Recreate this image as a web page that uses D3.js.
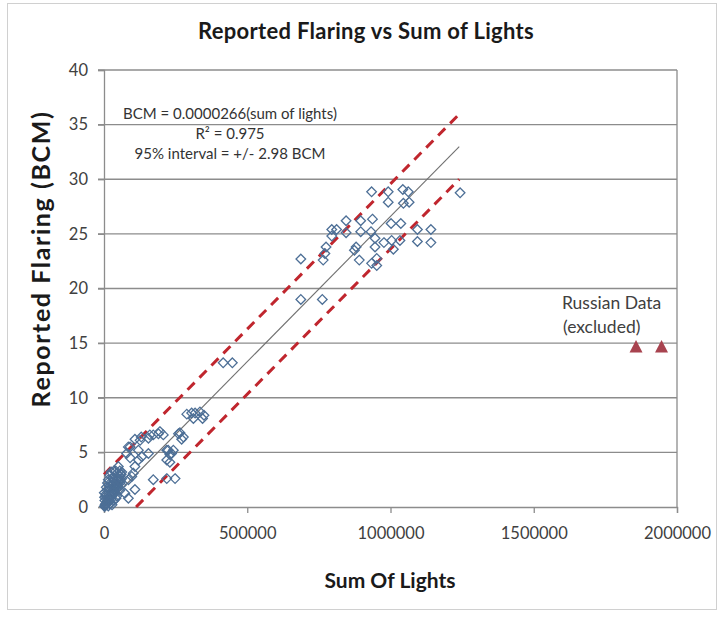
<!DOCTYPE html>
<html><head><meta charset="utf-8">
<script src="https://cdn.jsdelivr.net/npm/d3@7"></script>
<style>body{margin:0;background:#fff}</style>
</head><body><svg id="c" width="722" height="617"></svg>
<script>
// ---- data ----
const lightsSum = [
 934000,992000,1043000,1062000,992000,1045000,1065000,1243000,845000,896000,937000,1002000,1036000,
 795000,812000,845000,896000,932000,795000,1094000,1141000,1094000,1141000,946000,977000,1004000,1033000,
 1010000,946000,775000,880000,874000,771000,765000,687000,891000,934000,952000,952000,687000,762000,
 416000,448000,289000,306000,335000,349000,312000,344000,318000,265000,277000,271000,260000,207000,172000,
 155000,195000,190000,160000,130000,108000,126000,219000,230000,242000,224000,120000,91000,85000,79000,
 155000,132000,236000,219000,230000,120000,91000,50000,108000,102000,172000,219000,248000,97000,85000,
 108000,85000,73000,
 2000,3000,4000,5000,6000,8000,10000,12000,14000,15000,17000,18000,20000,22000,24000,25000,27000,28000,
 30000,32000,34000,35000,36000,38000,40000,42000,44000,45000,48000,50000,52000,55000,58000,60000,
 3000,7000,12000,20000,26000,33000,41000,1000,2000,9000,16000,46000,62000,56000,
 15000,20000,25000,35000,45000,55000,60000,55000,45000,35000,28000,20000,10000,8000,12000,30000,
 40000,50000,25000,38000,18000,47000,53000,33000,22000,42000,15000,6000,62000,58000
];
const flaringBCM = [
 28.85,28.85,29.06,28.85,27.9,27.8,27.9,28.76,26.2,26.2,26.35,25.95,25.95,
 25.4,25.4,25.1,25.2,25.2,24.8,25.4,25.4,24.3,24.2,24.6,24.2,24.4,24.4,
 23.6,23.8,23.8,23.8,23.5,23.2,22.6,22.7,22.6,22.3,22.75,22.1,19.0,19.0,
 13.2,13.2,8.5,8.6,8.7,8.4,8.1,8.1,8.6,6.8,6.4,6.2,6.7,6.6,6.6,
 6.3,6.9,6.7,6.6,6.4,6.2,6.1,5.2,4.8,5.2,5.2,5.2,5.5,5.5,4.9,
 4.9,4.6,4.9,4.3,4.1,4.3,4.5,3.7,3.7,3.1,2.5,2.6,2.6,2.8,2.5,
 1.6,0.8,1.25,
 0.05,0.1,0.2,0.15,0.3,0.25,0.4,0.5,0.6,0.45,0.7,0.9,0.8,1.0,1.1,0.7,1.3,1.0,
 1.4,1.2,1.6,1.8,1.5,2.0,1.9,1.7,2.2,2.4,2.1,2.6,2.3,2.8,2.5,3.0,
 0.6,1.2,1.5,1.9,2.3,2.7,3.3,1.3,0.9,0.3,0.5,2.0,3.2,2.2,
 2.5,2.9,3.2,3.3,3.1,3.3,2.0,1.5,1.0,0.6,0.2,0.3,0.9,1.8,2.2,2.7,
 2.0,1.8,1.0,1.3,1.6,2.6,2.4,2.1,2.0,0.8,0.1,1.0,2.6,3.0
];
const russianLights = [1857000, 1946000];
const russianBCM = [14.7, 14.7];
const xTicks = [0, 500000, 1000000, 1500000, 2000000];
const yTicks = [0, 5, 10, 15, 20, 25, 30, 35, 40];
const fitSlope = 0.0000266;
const fitInterval = 2.98;
const fitMaxLights = 1240000;
const annotationLines = ["BCM = 0.0000266(sum of lights)", "R² = 0.975", "95% interval = +/- 2.98 BCM"];

// ---- layout ----
const svg = d3.select("#c");
const L = 104, R = 677, T = 70, B = 507;
const x = d3.scaleLinear().domain([0, 2000000]).range([L, R]);
const y = d3.scaleLinear().domain([0, 40]).range([B, T]);
const font = "Lato, 'Open Sans', sans-serif";

// outer border
svg.append("rect").attr("x", 7.5).attr("y", 3.5).attr("width", 709).attr("height", 606)
  .attr("fill", "none").attr("stroke", "#d0d0d0").attr("stroke-width", 1);

// title
svg.append("text").attr("x", 366).attr("y", 39).attr("text-anchor", "middle")
  .attr("font-family", font).attr("font-weight", "bold").attr("font-size", 22)
  .attr("letter-spacing", 0.3).attr("fill", "#1a1a1a").text("Reported Flaring vs Sum of Lights");

// gridlines
svg.append("g").selectAll("line").data(yTicks.filter(d => d > 0)).join("line")
  .attr("x1", L - 6).attr("x2", R).attr("y1", d => y(d)).attr("y2", d => y(d))
  .attr("stroke", "#8c8c8c").attr("stroke-width", 1.3);

// right border of plot
svg.append("line").attr("x1", R).attr("x2", R).attr("y1", T).attr("y2", B)
  .attr("stroke", "#8c8c8c").attr("stroke-width", 1.3);

// axes
const xAxis = svg.append("g").attr("transform", `translate(0,${B})`)
  .call(d3.axisBottom(x).tickValues(xTicks).tickFormat(d3.format("d")).tickSize(6).tickPadding(14));
const yAxis = svg.append("g").attr("transform", `translate(${L},0)`)
  .call(d3.axisLeft(y).tickValues(yTicks).tickFormat(d3.format("d")).tickSize(6).tickPadding(10));
[xAxis, yAxis].forEach(a => {
  a.select(".domain").attr("stroke", "#8c8c8c").attr("stroke-width", 1.3);
  a.selectAll(".tick line").attr("stroke", "#8c8c8c").attr("stroke-width", 1.3);
  a.selectAll(".tick text").attr("font-family", font).attr("font-size", 16.5).attr("fill", "#404040");
});

// axis titles
svg.append("text").attr("x", 390).attr("y", 588).attr("text-anchor", "middle")
  .attr("font-family", font).attr("font-weight", "bold").attr("font-size", 21)
  .attr("fill", "#1a1a1a").text("Sum Of Lights");
svg.append("text").attr("transform", "translate(50,259) rotate(-90)").attr("text-anchor", "middle")
  .attr("font-family", font).attr("font-weight", "bold").attr("font-size", 25)
  .attr("letter-spacing", 1.6).attr("fill", "#1a1a1a").text("Reported Flaring (BCM)");

// fit line & interval
const fitPts = [0, fitMaxLights];
const lineGen = d3.line().x(d => x(d[0])).y(d => y(d[1]));
svg.append("path").datum(fitPts.map(v => [v, fitSlope * v]))
  .attr("d", lineGen).attr("stroke", "#707070").attr("stroke-width", 1.1).attr("fill", "none");
svg.append("path").datum(fitPts.map(v => [v, fitSlope * v + fitInterval]))
  .attr("d", lineGen).attr("stroke", "#c0262e").attr("stroke-width", 3)
  .attr("stroke-dasharray", "10,7").attr("fill", "none");
svg.append("path").datum([fitInterval / fitSlope, fitMaxLights].map(v => [v, fitSlope * v - fitInterval]))
  .attr("d", lineGen).attr("stroke", "#c0262e").attr("stroke-width", 3)
  .attr("stroke-dasharray", "10,7").attr("fill", "none");

// diamonds
const r = 4.8;
const diamond = `M0,${-r}L${r},0L0,${r}L${-r},0Z`;
svg.append("g").selectAll("path").data(lightsSum.map((v, i) => [v, flaringBCM[i]])).join("path")
  .attr("d", diamond).attr("transform", d => `translate(${x(d[0])},${y(d[1])})`)
  .attr("fill", "none").attr("stroke", "#4d6f96").attr("stroke-width", 1.3);

// Russian triangles
const tri = "M0,-6.5L6.5,6L-6.5,6Z";
svg.append("g").selectAll("path").data(russianLights.map((v, i) => [v, russianBCM[i]])).join("path")
  .attr("d", tri).attr("transform", d => `translate(${x(d[0])},${y(d[1])})`)
  .attr("fill", "#a8434f");

// annotations
const ann = svg.append("text").attr("font-family", font).attr("font-size", 15).attr("fill", "#333")
  .attr("text-anchor", "middle");
annotationLines.forEach((t, i) => {
  ann.append("tspan").attr("x", 230).attr("y", 119 + i * 20).text(t);
});
const rus = svg.append("text").attr("font-family", font).attr("font-size", 17.5).attr("fill", "#404040");
rus.append("tspan").attr("x", 562).attr("y", 309).text("Russian Data");
rus.append("tspan").attr("x", 563).attr("y", 333).text("(excluded)");
</script>
</body></html>
